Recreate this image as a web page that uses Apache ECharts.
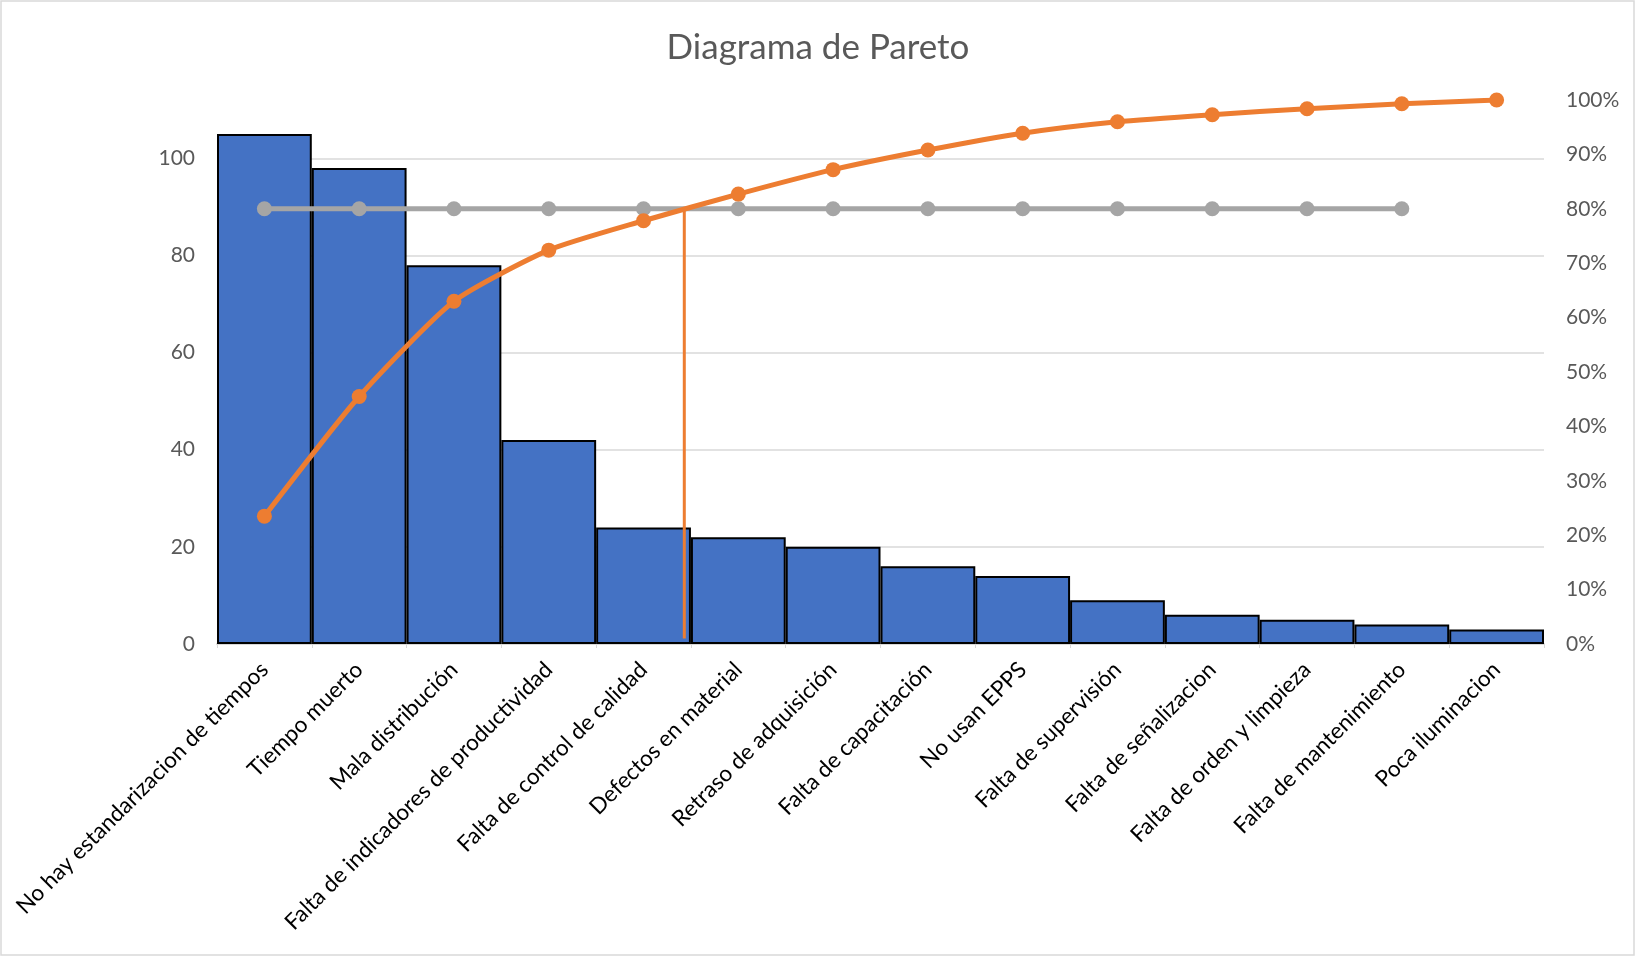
<!DOCTYPE html>
<html>
<head>
<meta charset="utf-8">
<title>Diagrama de Pareto</title>
<script src="https://cdn.jsdelivr.net/npm/echarts@6/dist/echarts.min.js"></script>
<style>
  html, body { margin: 0; padding: 0; background: #ffffff; }
  #chart { width: 1636px; height: 957px; }
</style>
</head>
<body>
<div id="chart"></div>
<script>
// Causas ordenadas de mayor a menor frecuencia
const categorias = [
  'No hay estandarizacion de tiempos',
  'Tiempo muerto',
  'Mala distribución',
  'Falta de indicadores de productividad',
  'Falta de control de calidad',
  'Defectos en material',
  'Retraso de adquisición',
  'Falta de capacitación',
  'No usan EPPS',
  'Falta de supervisión',
  'Falta de señalizacion',
  'Falta de orden y limpieza',
  'Falta de mantenimiento',
  'Poca iluminacion'
];

// Frecuencia de cada causa
const frecuencias = [105, 98, 78, 42, 24, 22, 20, 16, 14, 9, 6, 5, 4, 3];

// Porcentaje acumulado (fracción de 1)
const acumulado = [0.235, 0.455, 0.630, 0.724, 0.778, 0.827, 0.872, 0.908, 0.939, 0.960, 0.973, 0.984, 0.993, 1.000];

// Línea de referencia del 80 %
const meta80 = [0.8, 0.8, 0.8, 0.8, 0.8, 0.8, 0.8, 0.8, 0.8, 0.8, 0.8, 0.8, 0.8, '-'];

// Corte vertical donde el acumulado alcanza el 80 % (posición en índice de categoría)
const corte80 = [[4.43, 0.01], [4.43, 0.80]];

// Escalas de los ejes
const ejeIzq = { min: 0, max: 112, paso: 20 };
const ejeDer = { min: 0, max: 1, paso: 0.1 };

const gris = '#595959';
const fuente = 'Lato, "Open Sans", sans-serif';

const chart = echarts.init(document.getElementById('chart'), null, { renderer: 'canvas' });

chart.setOption({
  backgroundColor: '#ffffff',
  animation: false,
  title: {
    text: 'Diagrama de Pareto',
    left: 'center',
    top: 25,
    textStyle: { color: gris, fontFamily: fuente, fontSize: 35, fontWeight: 'normal' }
  },
  graphic: [{
    type: 'rect',
    shape: { x: 1, y: 1, width: 1633, height: 954 },
    style: { fill: null, stroke: '#D9D9D9', lineWidth: 1.5 },
    silent: true
  }],
  grid: { left: 217, right: 92, top: 100, bottom: 313 },
  xAxis: [{
    type: 'category',
    data: categorias,
    axisLine: { lineStyle: { color: '#D9D9D9', width: 2 } },
    axisTick: { show: true, length: 4, lineStyle: { color: '#D9D9D9' } },
    axisLabel: {
      rotate: 45,
      interval: 0,
      margin: 22,
      color: '#000000',
      fontFamily: fuente,
      fontSize: 22.5
    }
  }, {
    type: 'value',
    min: -0.5,
    max: categorias.length - 0.5,
    show: false
  }],
  yAxis: [{
    type: 'value',
    min: ejeIzq.min,
    max: ejeIzq.max,
    interval: ejeIzq.paso,
    axisLine: { show: false },
    axisTick: { show: false },
    axisLabel: { color: gris, fontFamily: fuente, fontSize: 21, margin: 22, showMaxLabel: false },
    splitLine: { show: true, showMaxLine: false, showMinLine: false, lineStyle: { color: '#D9D9D9', width: 1.5 } }
  }, {
    type: 'value',
    position: 'right',
    min: ejeDer.min,
    max: ejeDer.max,
    interval: ejeDer.paso,
    axisLine: { show: false },
    axisTick: { show: false },
    splitLine: { show: false },
    axisLabel: {
      color: gris,
      fontFamily: fuente,
      fontSize: 21,
      margin: 22,
      formatter: v => Math.round(v * 100) + '%'
    }
  }],
  series: [{
    name: 'Frecuencia',
    type: 'bar',
    data: frecuencias,
    barCategoryGap: '0%',
    itemStyle: { color: '#4472C4', borderColor: '#000000', borderWidth: 2 },
    z: 2
  }, {
    name: '80%',
    type: 'line',
    yAxisIndex: 1,
    data: meta80,
    symbol: 'circle',
    symbolSize: 15,
    itemStyle: { color: '#A5A5A5' },
    lineStyle: { color: '#A5A5A5', width: 5 },
    z: 3
  }, {
    name: 'Corte',
    type: 'line',
    xAxisIndex: 1,
    yAxisIndex: 1,
    data: corte80,
    symbol: 'none',
    lineStyle: { color: '#ED7D31', width: 3 },
    z: 4
  }, {
    name: 'Acumulado',
    type: 'line',
    yAxisIndex: 1,
    data: acumulado,
    smooth: 0.2,
    symbol: 'circle',
    symbolSize: 15,
    itemStyle: { color: '#ED7D31' },
    lineStyle: { color: '#ED7D31', width: 5 },
    z: 5
  }]
});
</script>
</body>
</html>
